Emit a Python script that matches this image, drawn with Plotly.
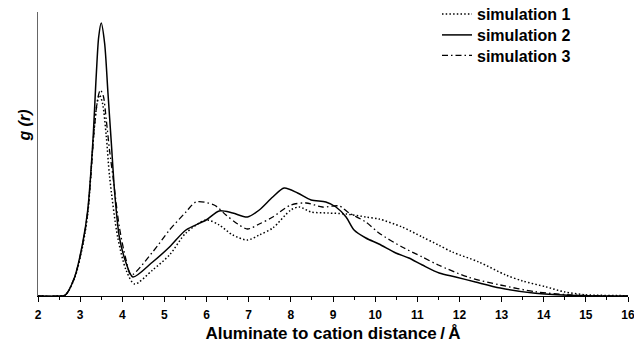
import plotly.graph_objects as go

# Radial distribution functions g(r) of cations around aluminate, three simulations
r_sim1 = [2.0, 2.5, 2.65, 2.87, 3.06, 3.18, 3.32, 3.40, 3.46, 3.53, 3.62, 3.70, 3.89, 4.09, 4.29,
          4.72, 5.12, 5.51, 5.99, 6.30, 6.62, 6.97, 7.25, 7.57, 8.0, 8.2, 8.48, 8.89, 9.31, 9.78,
          10.09, 10.64, 11.12, 11.5, 11.83, 12.46, 13.1, 13.5, 14.04, 14.5, 15.0, 15.9, 16.0]
g_sim1 = [0.0, 0.0, 0.01, 0.18, 0.50, 0.82, 1.60, 1.92, 2.01, 1.93, 1.60, 1.19, 0.59, 0.26, 0.12,
          0.26, 0.41, 0.63, 0.76, 0.71, 0.61, 0.56, 0.61, 0.68, 0.86, 0.89, 0.84, 0.83, 0.82, 0.79,
          0.77, 0.69, 0.59, 0.51, 0.44, 0.34, 0.21, 0.15, 0.093, 0.04, 0.012, 0.003, 0.0]

r_sim2 = [2.0, 2.5, 2.65, 2.87, 3.06, 3.18, 3.30, 3.38, 3.44, 3.50, 3.58, 3.66, 3.74, 3.82, 3.93,
          4.09, 4.25, 4.72, 5.12, 5.51, 5.99, 6.30, 6.62, 6.97, 7.25, 7.57, 7.84, 8.16, 8.48, 8.83,
          9.07, 9.31, 9.50, 9.78, 10.09, 10.49, 10.8, 11.12, 11.52, 11.91, 12.38, 12.97, 13.8,
          14.6, 15.5, 16.0]
g_sim2 = [0.0, 0.0, 0.01, 0.19, 0.53, 0.86, 1.53, 2.19, 2.59, 2.73, 2.53, 2.03, 1.53, 1.03, 0.59,
          0.33, 0.19, 0.34, 0.49, 0.66, 0.76, 0.85, 0.83, 0.79, 0.86, 0.99, 1.08, 1.03, 0.96, 0.94,
          0.89, 0.79, 0.66, 0.58, 0.52, 0.43, 0.38, 0.31, 0.23, 0.19, 0.14, 0.08, 0.027,
          0.007, 0.0, 0.0]

r_sim3 = [2.0, 2.5, 2.65, 2.87, 3.06, 3.18, 3.34, 3.42, 3.48, 3.55, 3.62, 3.70, 3.78, 3.93, 4.09,
          4.21, 4.72, 5.12, 5.51, 5.75, 6.18, 6.46, 6.74, 6.97, 7.25, 7.57, 8.0, 8.36, 8.75, 9.15,
          9.38, 9.78, 10.09, 10.64, 11.12, 11.5, 12.2, 12.97, 13.8, 14.6, 15.5, 16.0]
g_sim3 = [0.0, 0.0, 0.01, 0.19, 0.52, 0.84, 1.69, 1.98, 2.06, 2.0, 1.76, 1.45, 1.19, 0.69, 0.36,
          0.21, 0.44, 0.66, 0.84, 0.94, 0.91, 0.81, 0.72, 0.67, 0.72, 0.79, 0.91, 0.93, 0.89, 0.90,
          0.83, 0.74, 0.63, 0.49, 0.39, 0.31, 0.19, 0.11, 0.043, 0.012, 0.0, 0.0]

names = ["simulation 1", "simulation 2", "simulation 3"]
FONT = "Liberation Sans, Arial, Helvetica, sans-serif"

W, H = 634, 343
ML, MR, MT, MB = 38, 6, 12, 47
PW, PH = W - ML - MR, H - MT - MB

fig = go.Figure()
fig.add_trace(go.Scatter(x=r_sim1, y=g_sim1, name=names[0], mode="lines", legend="legend",
                         line=dict(color="black", width=1.5, dash="1.5px,2.2px", shape="spline", smoothing=0.8)))
fig.add_trace(go.Scatter(x=r_sim2, y=g_sim2, name=names[1], mode="lines", legend="legend2",
                         line=dict(color="black", width=1.5, shape="spline", smoothing=0.8)))
fig.add_trace(go.Scatter(x=r_sim3, y=g_sim3, name=names[2], mode="lines", legend="legend3",
                         line=dict(color="black", width=1.3, dash="6px,3px,1.5px,3px", shape="spline", smoothing=0.8)))


def legend_row(center_px):
    # one legend box per series, stacked in the upper right of the plot area
    return dict(x=(437 - ML) / PW, xref="paper", xanchor="left",
                y=(H - MB - center_px) / PH, yref="paper", yanchor="middle",
                bgcolor="rgba(0,0,0,0)", borderwidth=0,
                font=dict(family=FONT, size=16, weight="bold", color="black"))


fig.update_layout(
    width=W, height=H,
    margin=dict(l=ML, r=MR, t=MT, b=MB, autoexpand=False),
    paper_bgcolor="white", plot_bgcolor="white",
    font=dict(family=FONT, color="black"),
    showlegend=True,
    legend=legend_row(14),
    legend2=legend_row(35),
    legend3=legend_row(55.5),
    xaxis=dict(range=[2, 16], tick0=2, dtick=1, showgrid=False, zeroline=False,
               showline=True, linecolor="black", linewidth=1, automargin=False,
               ticks="outside", ticklen=5, tickcolor="black", tickwidth=1,
               minor=dict(dtick=0.5, ticks="outside", ticklen=3, tickcolor="black"),
               tickfont=dict(family=FONT, size=12, weight="bold", color="black"),
               ticklabeloverflow="allow", ticklabelstandoff=3,
               title=dict(text="Aluminate to cation distance\u2009/\u2009Å", standoff=13,
                          font=dict(family=FONT, size=17, weight="bold", color="black"))),
    yaxis=dict(range=[0, 2.84], showgrid=False, zeroline=False, automargin=False,
               showline=True, linecolor="#666", linewidth=1,
               ticks="", showticklabels=False),
    annotations=[dict(text="g (r)", xref="paper", yref="paper", x=-0.022, y=0.6,
                      xanchor="center", yanchor="middle", textangle=-90, showarrow=False,
                      font=dict(family=FONT, size=16, weight="bold", style="italic", color="black"))],
)

fig.write_html("out.html")
